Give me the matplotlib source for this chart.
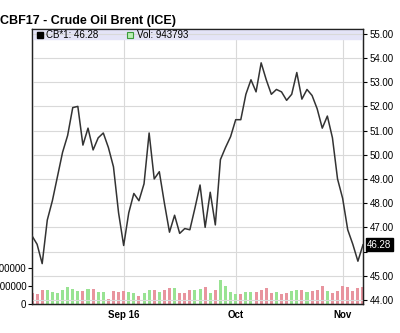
import matplotlib
matplotlib.use("Agg")
import matplotlib.pyplot as plt
import matplotlib.transforms as mtransforms

plt.rcParams["font.family"] = ["Liberation Sans", "DejaVu Sans"]

# daily closes, Aug 8 -> Nov 4 2016
close = [46.65, 46.3, 45.5, 47.3, 48.1, 49.1, 50.1, 50.8, 51.95, 52.0,
         50.4, 51.1, 50.2, 50.7, 50.9, 50.3, 49.5, 47.6, 46.25, 47.6,
         48.4, 48.1, 48.8, 50.9, 49.0, 49.3, 48.0, 46.8, 47.5, 46.75,
         46.95, 46.9, 47.8, 48.75, 47.0, 48.45, 47.1, 49.8, 50.3, 50.75,
         51.45, 51.45, 52.5, 53.1, 52.6, 53.8, 53.1, 52.5, 52.7, 52.6,
         52.25, 52.5, 53.4, 52.3, 52.7, 52.45, 51.9, 51.1, 51.6, 50.7,
         49.0, 48.2, 46.9, 46.3, 45.6, 46.28]

# volume in thousands
volume = [600, 540, 780, 780, 650, 595, 780, 930, 835, 720,
          720, 835, 835, 685, 685, 280, 720, 685, 740, 650,
          595, 460, 595, 780, 780, 650, 780, 870, 870, 595,
          595, 780, 780, 835, 930, 610, 795, 1350, 985, 685,
          555, 555, 685, 650, 685, 795, 870, 610, 685, 555,
          610, 740, 795, 795, 650, 740, 795, 985, 740, 610,
          740, 1015, 930, 740, 870, 944]

# "u" = green bar, "d" = red bar
vol_dir = list("d"
               "dduuuuuuud" "uduudddduu" "duududdudd" "du"
               "ududuuuudu" "uddddudduu" "dudddudddd" "dd"
               "d")

date_ticks = [18, 40, 61]
date_labels = ["Sep 16", "Oct", "Nov"]
price_ticks = [44, 45, 46, 47, 48, 49, 50, 51, 52, 53, 54, 55]
vol_ticks = [0, 1000000, 2000000]
last_close = 46.28
last_vol = 943793

fig = plt.figure(figsize=(4.0, 3.33), dpi=100)
ax_vol = fig.add_axes([0.08, 0.087, 0.8275, 0.826])
ax = ax_vol.twinx()

x = list(range(len(close)))

# volume bars (left axis)
bar_colors = ["#98e392" if d == "u" else "#e8949e" for d in vol_dir]
ax_vol.bar(x, [v * 1000 for v in volume], width=0.6, color=bar_colors, zorder=2)
ax_vol.set_ylim(0, 15.3e6)
ax_vol.set_yticks(vol_ticks)
ax_vol.set_yticklabels([str(v) for v in vol_ticks])
ax_vol.tick_params(axis="y", labelsize=7, length=3, width=0.8, pad=1)
ax_vol.set_xlim(0, len(close) - 1)
ax_vol.set_xticks(date_ticks)
ax_vol.set_xticklabels(date_labels, fontweight="bold")
ax_vol.tick_params(axis="x", labelsize=7, length=0, pad=4)
ax_vol.grid(axis="x", color="#d9d9d9", lw=0.8)
ax_vol.set_axisbelow(True)

# price line (right axis)
ax.set_ylim(43.83, 55.2)
ax.axhspan(54.78, 55.2, color="#e4e4f7", zorder=0)
ax.plot(x, close, color="#333333", lw=1.1, zorder=3)
ax.set_yticks(price_ticks)
ax.set_yticklabels(["" if t == 46 else "%.2f" % t for t in price_ticks])
ax.tick_params(axis="y", labelsize=7, length=3, width=0.8, pad=2)
ax.grid(axis="y", color="#d9d9d9", lw=0.8)
ax.set_axisbelow(True)

for a in (ax, ax_vol):
    for s in a.spines.values():
        s.set_color("#222222")
        s.set_linewidth(0.9)

# last value tag
trans = mtransforms.blended_transform_factory(ax.transAxes, ax.transData)
ax.text(1.012, last_close, "%.2f" % last_close, transform=trans, fontsize=7,
        color="white", va="center", ha="left",
        bbox=dict(boxstyle="square,pad=0.15", fc="black", ec="black"))

# legend row
ax.plot([0.024], [0.978], marker="s", ms=4.5, color="black", transform=ax.transAxes, clip_on=False)
ax.text(0.043, 0.978, "CB*1: %.2f" % last_close, transform=ax.transAxes,
        fontsize=7, va="center")
ax.plot([0.297], [0.978], marker="s", ms=4.5, mfc="#b8efb4", mec="#3a9a3a",
        mew=0.8, transform=ax.transAxes, clip_on=False)
ax.text(0.316, 0.978, "Vol: %d" % last_vol, transform=ax.transAxes,
        fontsize=7, va="center")

fig.text(0.0, 0.92, "CBF17 - Crude Oil Brent (ICE)", fontsize=9,
         fontweight="bold", ha="left", va="bottom")

fig.savefig("out.png", dpi=100)
